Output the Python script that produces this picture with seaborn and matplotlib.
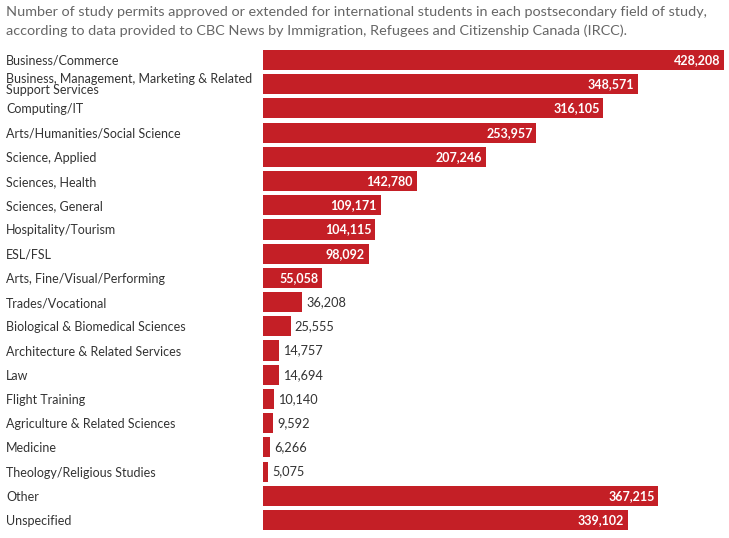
import seaborn as sns
import matplotlib.pyplot as plt
import pandas as pd

sns.set_style("white")
plt.rcParams['font.family'] = ['Lato', 'DejaVu Sans']

fields = ['Business/Commerce',
          'Business, Management, Marketing & Related\nSupport Services',
          'Computing/IT', 'Arts/Humanities/Social Science', 'Science, Applied',
          'Sciences, Health', 'Sciences, General', 'Hospitality/Tourism',
          'ESL/FSL', 'Arts, Fine/Visual/Performing', 'Trades/Vocational',
          'Biological & Biomedical Sciences', 'Architecture & Related Services',
          'Law', 'Flight Training', 'Agriculture & Related Sciences',
          'Medicine', 'Theology/Religious Studies', 'Other', 'Unspecified']
permits = [428208, 348571, 316105, 253957, 207246, 142780, 109171, 104115,
           98092, 55058, 36208, 25555, 14757, 14694, 10140, 9592, 6266, 5075,
           367215, 339102]

data = pd.DataFrame({'field': fields, 'permits': permits})
red = '#c41f26'

fig = plt.figure(figsize=(7.29, 5.38), dpi=100)
ax = fig.add_axes([263 / 729, 0.011, 461 / 729, 0.90])
sns.barplot(data=data, x='permits', y='field', color=red, saturation=1,
            width=0.83, linewidth=0, ax=ax)
ax.set_xlim(0, 428208)
ax.set_ylim(19.5, -0.5)
ax.set_xlabel('')
ax.set_ylabel('')
ax.set_xticks([])
sns.despine(ax=ax, left=True, bottom=True)
ax.tick_params(axis='y', length=0, pad=185)
for lab in ax.get_yticklabels():
    lab.set_ha('left')
    lab.set_fontsize(9)
    lab.set_color('#333333')
    lab.set_linespacing(0.92)

for i, v in enumerate(permits):
    txt = f'{v:,}'
    if v >= 50000:
        ax.text(v - 3500, i, txt, ha='right', va='center', color='white',
                fontsize=9, fontweight='bold')
    else:
        ax.text(v + 4000, i, txt, ha='left', va='center', color='#333333',
                fontsize=9.2)

fig.text(6 / 729, 1 - 6 / 538,
         'Number of study permits approved or extended for international students in each postsecondary field of study,\n'
         'according to data provided to CBC News by Immigration, Refugees and Citizenship Canada (IRCC).',
         ha='left', va='top', fontsize=10.4, color='#666666', linespacing=1.6)

fig.savefig('out.png', dpi=100)
